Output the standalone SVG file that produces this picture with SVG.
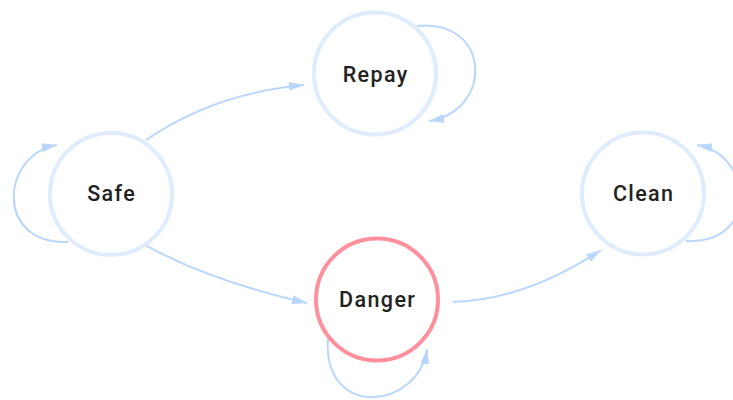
<svg xmlns="http://www.w3.org/2000/svg" width="733" height="400" viewBox="0 0 733 400">
<style>
.node{fill:#ffffff;stroke:#dfecfe;stroke-width:4}
.danger{fill:#ffffff;stroke:#ff8f9b;stroke-width:4}
.label{font-family:Roboto,"Liberation Sans",sans-serif;font-size:21.5px;font-weight:500;letter-spacing:1.4px;fill:#222222;text-anchor:middle;dominant-baseline:central}
.edge{fill:none;stroke:#b9d7fc;stroke-width:2}
</style>
<defs>
<marker id="arr" markerUnits="userSpaceOnUse" markerWidth="16" markerHeight="10" refX="15" refY="5" orient="auto" viewBox="0 0 16 10">
<path d="M0,0.5 L15,5 L0,9.5 z" fill="#b9d7fc"/>
</marker>
</defs>
<g id="connectors">
<path class="edge" d="M146,140 Q215,93 304,85" marker-end="url(#arr)"/>
<path class="edge" d="M145,245 Q210,281 307,303" marker-end="url(#arr)"/>
<path class="edge" d="M453,302 Q525,300 601,250" marker-end="url(#arr)"/>
<path class="edge" d="M68,242 C-5,245 0,155 57,145" marker-end="url(#arr)"/>
<path class="edge" d="M417,26 C490,18 495,110 429,121" marker-end="url(#arr)"/>
<path class="edge" d="M686,241 C759,245 754,155 697,145" marker-end="url(#arr)"/>
<path class="edge" d="M328,338 C322,420 418,410 427,349" marker-end="url(#arr)"/>
</g>
<g id="node-safe">
<circle class="node" cx="111" cy="194" r="61"/>
<text class="label" x="111.7" y="193">Safe</text>
</g>
<g id="node-repay">
<circle class="node" cx="375" cy="73.5" r="61"/>
<text class="label" x="375.7" y="74">Repay</text>
</g>
<g id="node-danger">
<circle class="danger" cx="377" cy="299.5" r="61"/>
<text class="label" x="377.7" y="299">Danger</text>
</g>
<g id="node-clean">
<circle class="node" cx="643" cy="193.5" r="61"/>
<text class="label" x="643.7" y="193">Clean</text>
</g>
</svg>
